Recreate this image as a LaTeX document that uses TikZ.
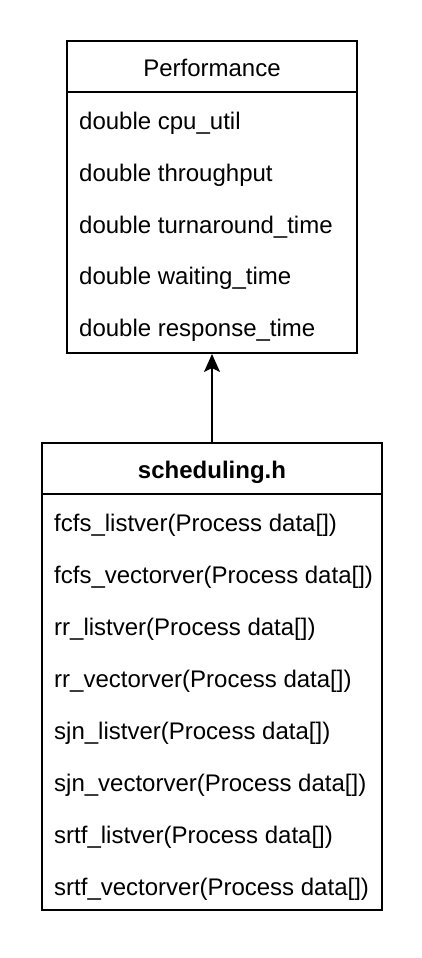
\documentclass[tikz,border=0pt]{standalone}
\usepackage{fontspec}
\setmainfont{Liberation Sans}
\usetikzlibrary{arrows.meta}
\begin{document}
\begin{tikzpicture}[x=1pt,y=-1pt,
  box/.style={draw=black,line width=2pt,fill=white},
  sep/.style={draw=black,line width=2pt},
  field/.style={anchor=west,inner sep=0pt,font=\fontsize{24}{28}\selectfont,text height=17pt,text depth=5pt},
  title/.style={anchor=center,inner sep=0pt,font=\fontsize{24}{28}\selectfont,text height=17pt,text depth=5pt},
  link/.style={draw=black,line width=2pt,-{Stealth[length=18pt,width=16pt,inset=4pt]}}]
\useasboundingbox (0,0) rectangle (422,958);
% Performance class
\node[box,minimum width=290pt,minimum height=312pt,inner sep=0pt] (perf) at (212,197) {};
\draw[sep] (67,92) -- (357,92);
\node[title] (perft) at (212,71) {Performance};
\node[field] (p1) at (79,123) {double cpu\_util};
\node[field] (p2) at (79,175) {double throughput};
\node[field] (p3) at (79,227) {double turnaround\_time};
\node[field] (p4) at (79,278) {double waiting\_time};
\node[field] (p5) at (79,330) {double response\_time};
% scheduling.h class
\node[box,minimum width=340pt,minimum height=467pt,inner sep=0pt] (sched) at (212,676.5) {};
\draw[sep] (42,494) -- (382,494);
\node[title,font=\bfseries\fontsize{24}{28}\selectfont] (schedt) at (212,472) {scheduling.h};
\node[field] (s1) at (54,525) {fcfs\_listver(Process data[])};
\node[field] (s2) at (54,577) {fcfs\_vectorver(Process data[])};
\node[field] (s3) at (54,629) {rr\_listver(Process data[])};
\node[field] (s4) at (54,681) {rr\_vectorver(Process data[])};
\node[field] (s5) at (54,733) {sjn\_listver(Process data[])};
\node[field] (s6) at (54,785) {sjn\_vectorver(Process data[])};
\node[field] (s7) at (54,837) {srtf\_listver(Process data[])};
\node[field] (s8) at (54,889) {srtf\_vectorver(Process data[])};
% dependency arrow
\draw[link] (sched.north) -- (perf.south);
\end{tikzpicture}
\end{document}
